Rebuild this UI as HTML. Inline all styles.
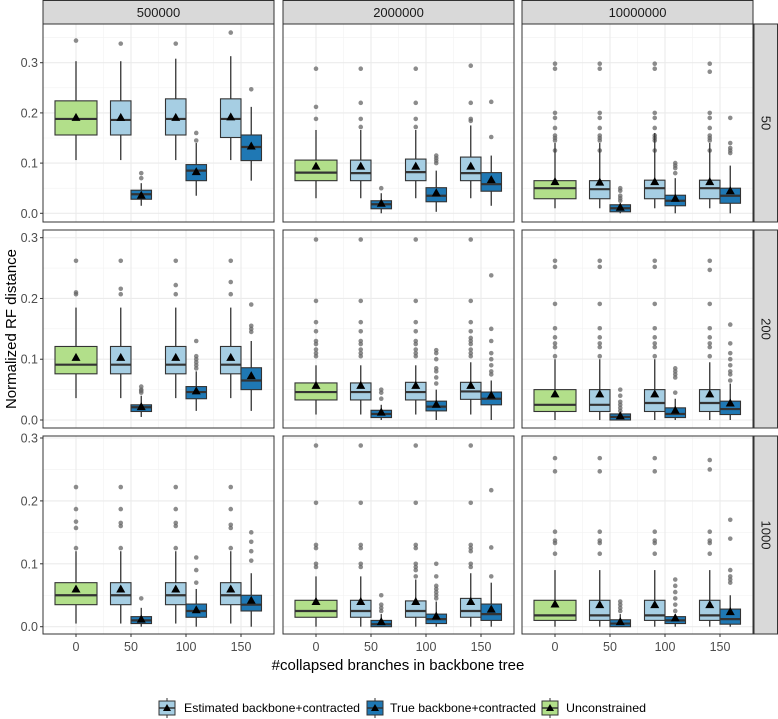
<!DOCTYPE html>
<html><head><meta charset="utf-8">
<style>
html,body{margin:0;padding:0;background:#fff;}
svg{display:block;font-family:"Liberation Sans",Arial,sans-serif;}
</style></head>
<body>
<svg id="chart" width="778" height="719" viewBox="0 0 778 719" xmlns="http://www.w3.org/2000/svg"></svg>
<script>
const colLabels = ["500000","2000000","10000000"];
const rowLabels = ["50","200","1000"];
const xTicks = [0,50,100,150];
const yTicks = [0,0.1,0.2,0.3];
const yTickLabels = ["0.0","0.1","0.2","0.3"];
const groupNames = ["Unconstrained","Estimated backbone+contracted","True backbone+contracted","Estimated backbone+contracted","True backbone+contracted","Estimated backbone+contracted","True backbone+contracted"];
const groupX = [0,50,50,100,100,150,150];
// stats per panel (row-major): [lo, q1, median, q3, hi, mean]
const boxStats = [
 [[0.106,0.156,0.188,0.224,0.303,0.191],[0.106,0.156,0.186,0.224,0.303,0.191],[0.015,0.028,0.038,0.046,0.06,0.036],[0.106,0.156,0.188,0.228,0.308,0.191],[0.035,0.065,0.085,0.097,0.14,0.083],[0.106,0.151,0.188,0.228,0.313,0.192],[0.065,0.105,0.132,0.156,0.212,0.134]],
 [[0.03,0.065,0.081,0.106,0.166,0.094],[0.03,0.065,0.08,0.106,0.166,0.094],[0.0,0.009,0.018,0.025,0.04,0.02],[0.03,0.065,0.082,0.108,0.166,0.094],[0.003,0.023,0.035,0.051,0.085,0.041],[0.03,0.065,0.08,0.112,0.175,0.094],[0.015,0.044,0.058,0.081,0.115,0.067]],
 [[0.01,0.029,0.05,0.065,0.14,0.063],[0.01,0.029,0.048,0.065,0.14,0.062],[0.0,0.003,0.01,0.017,0.02,0.012],[0.01,0.029,0.05,0.066,0.16,0.063],[0.0,0.015,0.025,0.036,0.07,0.03],[0.01,0.029,0.05,0.066,0.14,0.063],[0.0,0.02,0.035,0.05,0.095,0.045]],
 [[0.036,0.076,0.091,0.121,0.185,0.103],[0.036,0.076,0.091,0.121,0.185,0.103],[0.005,0.014,0.021,0.025,0.04,0.022],[0.036,0.076,0.091,0.121,0.185,0.103],[0.015,0.035,0.046,0.055,0.08,0.048],[0.036,0.076,0.091,0.121,0.185,0.103],[0.015,0.05,0.065,0.086,0.13,0.073]],
 [[0.009,0.033,0.046,0.061,0.09,0.057],[0.009,0.033,0.046,0.061,0.09,0.057],[0.0,0.004,0.01,0.016,0.025,0.013],[0.009,0.033,0.046,0.062,0.09,0.057],[0.0,0.015,0.022,0.031,0.05,0.026],[0.009,0.034,0.047,0.062,0.095,0.057],[0.0,0.025,0.035,0.046,0.065,0.041]],
 [[0.0,0.014,0.025,0.05,0.1,0.043],[0.0,0.014,0.025,0.05,0.1,0.043],[0.0,0.0,0.005,0.01,0.012,0.007],[0.0,0.014,0.028,0.05,0.1,0.043],[0.0,0.004,0.01,0.02,0.035,0.016],[0.0,0.014,0.028,0.05,0.095,0.043],[0.0,0.009,0.018,0.031,0.06,0.028]],
 [[0.005,0.035,0.05,0.07,0.12,0.06],[0.005,0.035,0.05,0.07,0.12,0.06],[0.0,0.005,0.01,0.016,0.03,0.012],[0.005,0.035,0.05,0.07,0.12,0.06],[0.0,0.015,0.025,0.036,0.06,0.027],[0.005,0.035,0.05,0.07,0.12,0.06],[0.0,0.025,0.035,0.05,0.085,0.042]],
 [[0.0,0.015,0.025,0.042,0.08,0.04],[0.0,0.015,0.025,0.042,0.08,0.04],[0.0,0.0,0.004,0.01,0.02,0.008],[0.0,0.015,0.025,0.041,0.075,0.04],[0.0,0.005,0.012,0.02,0.04,0.017],[0.0,0.015,0.025,0.045,0.085,0.04],[0.0,0.01,0.02,0.036,0.07,0.028]],
 [[0.0,0.01,0.018,0.042,0.09,0.036],[0.0,0.01,0.018,0.042,0.09,0.035],[0.0,0.0,0.005,0.011,0.02,0.008],[0.0,0.01,0.018,0.042,0.09,0.035],[0.0,0.005,0.01,0.016,0.02,0.014],[0.0,0.01,0.018,0.042,0.09,0.035],[0.0,0.004,0.012,0.028,0.05,0.024]]
];
const outliers = [
 [[0.344],[0.338],[0.07,0.08],[0.338],[0.145,0.16],[0.36],[0.247]],
 [[0.288,0.212,0.188],[0.288,0.22,0.188,0.172],[0.05],[0.288,0.22,0.188,0.172],[0.1,0.105,0.11,0.115],[0.294,0.22,0.188,0.184],[0.152,0.222]],
 [[0.298,0.288,0.2,0.19,0.17,0.155,0.15,0.145,0.125],[0.298,0.288,0.2,0.19,0.17,0.155,0.15,0.145,0.125],[0.025,0.03,0.035,0.045,0.05],[0.298,0.288,0.2,0.19,0.17,0.155,0.15,0.145,0.125],[0.08,0.09,0.095,0.1],[0.298,0.282,0.2,0.19,0.17,0.155,0.15,0.145,0.125],[0.12,0.125,0.13,0.14,0.19]],
 [[0.262,0.21,0.207],[0.262,0.216,0.207],[0.045,0.048,0.05,0.055],[0.262,0.222,0.207],[0.085,0.09,0.095,0.1,0.105,0.13],[0.262,0.227,0.207],[0.145,0.15,0.155,0.19]],
 [[0.297,0.196,0.161,0.146,0.13,0.125,0.116,0.11,0.105],[0.297,0.196,0.161,0.146,0.13,0.125,0.116,0.11,0.105],[0.035,0.045,0.05],[0.297,0.196,0.161,0.146,0.13,0.125,0.116,0.11,0.105],[0.06,0.07,0.08,0.085,0.1,0.11,0.115],[0.297,0.196,0.161,0.146,0.135,0.13,0.125,0.116,0.11,0.105],[0.075,0.08,0.09,0.1,0.11,0.13,0.15,0.238]],
 [[0.262,0.252,0.191,0.151,0.136,0.126,0.12,0.105],[0.262,0.252,0.191,0.151,0.136,0.126,0.12,0.105],[0.015,0.02,0.025,0.03,0.04,0.05],[0.262,0.252,0.191,0.151,0.136,0.126,0.12,0.105],[0.045,0.07,0.075,0.08,0.085],[0.262,0.247,0.191,0.151,0.136,0.126,0.12,0.105],[0.065,0.075,0.08,0.09,0.1,0.11,0.126,0.157]],
 [[0.125,0.157,0.167,0.187,0.222],[0.125,0.16,0.165,0.187,0.222],[0.045],[0.125,0.16,0.165,0.187,0.222],[0.07,0.09,0.11],[0.125,0.157,0.162,0.187,0.222],[0.105,0.12,0.135,0.15]],
 [[0.095,0.1,0.125,0.13,0.197,0.288],[0.095,0.1,0.125,0.13,0.197,0.288],[0.025,0.03,0.035,0.05],[0.08,0.09,0.095,0.1,0.125,0.13,0.197,0.288],[0.045,0.05,0.055,0.06,0.065,0.08,0.1],[0.095,0.1,0.12,0.125,0.13,0.197,0.288],[0.08,0.126,0.217]],
 [[0.116,0.133,0.137,0.151,0.247,0.268],[0.116,0.133,0.137,0.151,0.247,0.268],[0.025,0.03,0.035,0.04],[0.116,0.133,0.137,0.151,0.247,0.268],[0.025,0.035,0.045,0.055,0.065,0.075],[0.116,0.133,0.137,0.151,0.25,0.265],[0.07,0.075,0.08,0.09,0.14,0.17]]
];
const groupColors = ["#b2df8a","#a6cee3","#1f78b4","#a6cee3","#1f78b4","#a6cee3","#1f78b4"];
const groupOffset = [0,-1,1,-1,1,-1,1];

const NS="http://www.w3.org/2000/svg";
const svg=document.getElementById("chart");
function mk(tag,attrs,parent){const e=document.createElementNS(NS,tag);for(const k in attrs)e.setAttribute(k,attrs[k]);(parent||svg).appendChild(e);return e;}

const colLeft=[43,283,522], panelW=231;
const rowTop=[24,230,436], panelH=198;
const rowY0=[213.3,420,626.7], rowY3=[62.7,237.7,438];
function xScale(c,v){return colLeft[c]+33+v*55/50;}
function yScale(r,v){return rowY0[r]-(rowY0[r]-rowY3[r])*v/0.3;}

for(let c=0;c<3;c++){
  const s=mk("rect",{x:colLeft[c],y:0.5,width:panelW,height:23.5,fill:"#d9d9d9",stroke:"#333",'stroke-width':1});
  
  
  const t=mk("text",{x:colLeft[c]+panelW/2,y:17,'text-anchor':'middle','font-size':13,fill:'#1a1a1a'});
  t.textContent=colLabels[c];
  
  
}
for(let r=0;r<3;r++){
  const s=mk("rect",{x:754,y:rowTop[r],width:23.5,height:panelH,fill:"#d9d9d9",stroke:"#333",'stroke-width':1});
  
  
  const cy=rowTop[r]+panelH/2;
  const t=mk("text",{x:766,y:cy,'text-anchor':'middle','dominant-baseline':'central','font-size':13,fill:'#1a1a1a',transform:`rotate(90 766 ${cy})`});
  t.textContent=rowLabels[r];
  
  
}

for(let r=0;r<3;r++){
  for(let c=0;c<3;c++){
    const p=r*3+c;
    const g=mk("g",{});
    
    
    const L=colLeft[c],T=rowTop[r],B=T+panelH;
    mk("rect",{x:L,y:T,width:panelW,height:panelH,fill:"#fff"},g);
    for(let v=0.05;v<=0.36;v+=0.1){const y=yScale(r,v);if(y>T&&y<B)mk("line",{x1:L,x2:L+panelW,y1:y,y2:y,stroke:"#f2f2f2",'stroke-width':0.6},g);}
    for(const v of [25,75,125]){const x=xScale(c,v);mk("line",{x1:x,x2:x,y1:T,y2:B,stroke:"#f2f2f2",'stroke-width':0.6},g);}
    for(const v of yTicks){const y=yScale(r,v);mk("line",{x1:L,x2:L+panelW,y1:y,y2:y,stroke:"#ebebeb",'stroke-width':1.1},g);}
    for(const v of xTicks){const x=xScale(c,v);mk("line",{x1:x,x2:x,y1:T,y2:B,stroke:"#ebebeb",'stroke-width':1.1},g);}
    for(let k=0;k<7;k++){
      const st=boxStats[p][k];
      const cx=xScale(c,groupX[k]);
      let x0,x1;
      if(groupOffset[k]===0){x0=cx-21;x1=cx+21;}else if(groupOffset[k]<0){x0=cx-20.5;x1=cx;}else{x0=cx;x1=cx+20.5;}
      const mx=(x0+x1)/2;
      const bg=mk("g",{},g);
      
      
      for(const o of outliers[p][k]){mk("circle",{cx:mx,cy:yScale(r,o),r:2.3,fill:"#666",'fill-opacity':0.75},bg);}
      mk("line",{x1:mx,x2:mx,y1:yScale(r,st[0]),y2:yScale(r,st[4]),stroke:"#333",'stroke-width':1.3},bg);
      mk("rect",{x:x0,y:yScale(r,st[3]),width:x1-x0,height:Math.max(1,yScale(r,st[1])-yScale(r,st[3])),fill:groupColors[k],stroke:"#333",'stroke-width':1.1},bg);
      mk("line",{x1:x0,x2:x1,y1:yScale(r,st[2]),y2:yScale(r,st[2]),stroke:"#333",'stroke-width':2.2},bg);
      const my=yScale(r,st[5]);
      mk("polygon",{points:`${mx-4.5},${my+3.5} ${mx+4.5},${my+3.5} ${mx},${my-4.5}`,fill:"#000"},bg);
    }
    mk("rect",{x:L,y:T,width:panelW,height:panelH,fill:"none",stroke:"#333",'stroke-width':1},g);
    if(c===0){
      for(let i=0;i<yTicks.length;i++){const y=yScale(r,yTicks[i]);
        mk("line",{x1:L-3,x2:L,y1:y,y2:y,stroke:"#333"},g);
        const t=mk("text",{x:L-5,y:y+4.5,'text-anchor':'end','font-size':12.5,fill:'#4d4d4d'},g);t.textContent=yTickLabels[i];
        
        }
    }
    if(r===2){
      for(const v of xTicks){const x=xScale(c,v);
        mk("line",{x1:x,x2:x,y1:B,y2:B+3,stroke:"#333"},g);
        const t=mk("text",{x:x,y:B+17,'text-anchor':'middle','font-size':12.5,fill:'#4d4d4d'},g);t.textContent=String(v);
        
        }
    }
  }
}
</script>
<div style="position:absolute;left:0;top:0;width:778px;height:719px;pointer-events:none;">
<svg width="778" height="719" style="position:absolute;left:0;top:0" xmlns="http://www.w3.org/2000/svg">
<text x="398" y="670" text-anchor="middle" font-size="15" fill="#000" font-family="Liberation Sans, sans-serif">#collapsed branches in backbone tree</text>
<text x="0" y="0" transform="translate(16 329) rotate(-90)" text-anchor="middle" font-size="15" fill="#000" font-family="Liberation Sans, sans-serif">Normalized RF distance</text>
<g font-family="Liberation Sans, sans-serif" font-size="12" fill="#000">
 <g>
  <line x1="167" x2="167" y1="698" y2="718" stroke="#333"/>
  <rect x="159" y="701" width="16" height="14" fill="#a6cee3" stroke="#333"/>
  <line x1="159" x2="175" y1="708" y2="708" stroke="#333" stroke-width="1.5"/>
  <polygon points="163,711 171,711 167,704" fill="#000"/>
  <text x="184" y="712" textLength="176" lengthAdjust="spacingAndGlyphs">Estimated backbone+contracted</text>
 </g>
 <g>
  <line x1="375" x2="375" y1="698" y2="718" stroke="#333"/>
  <rect x="367" y="701" width="16" height="14" fill="#1f78b4" stroke="#333"/>
  <line x1="367" x2="383" y1="708" y2="708" stroke="#333" stroke-width="1.5"/>
  <polygon points="371,711 379,711 375,704" fill="#000"/>
  <text x="390" y="712" textLength="146" lengthAdjust="spacingAndGlyphs">True backbone+contracted</text>
 </g>
 <g>
  <line x1="550" x2="550" y1="698" y2="718" stroke="#333"/>
  <rect x="542" y="701" width="16" height="14" fill="#b2df8a" stroke="#333"/>
  <line x1="542" x2="558" y1="708" y2="708" stroke="#333" stroke-width="1.5"/>
  <polygon points="546,711 554,711 550,704" fill="#000"/>
  <text x="566" y="712" textLength="80" lengthAdjust="spacingAndGlyphs">Unconstrained</text>
 </g>
</g>
</svg>
</div>
</body></html>
